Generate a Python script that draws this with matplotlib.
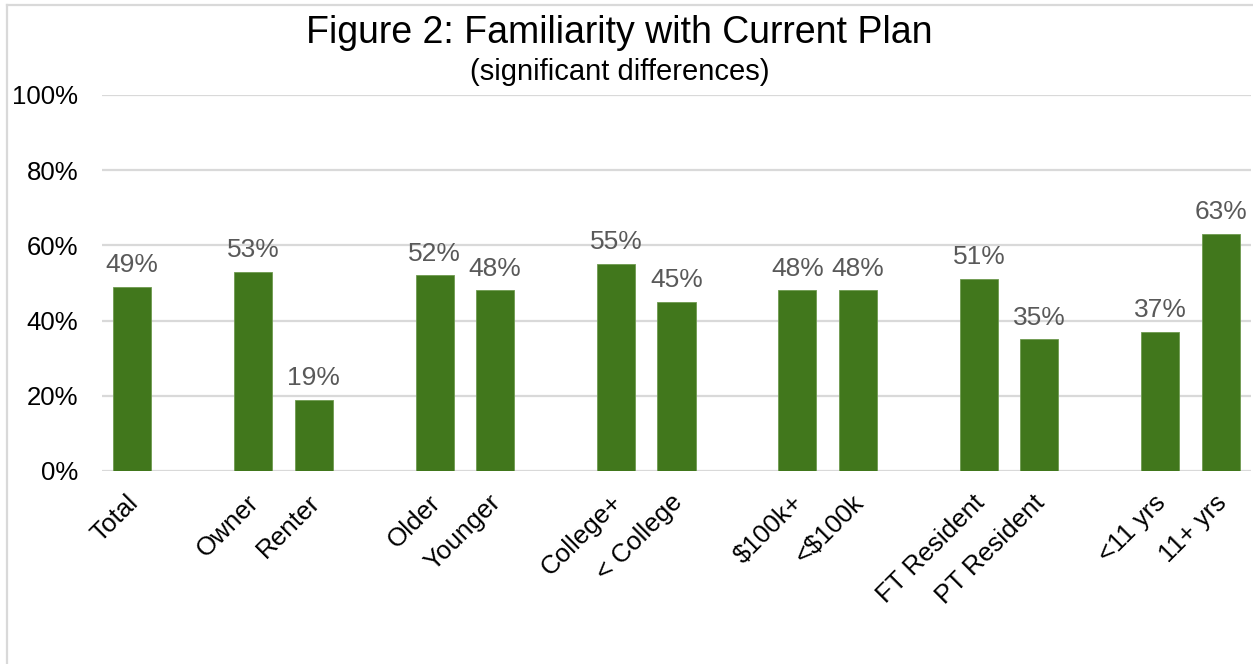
import numpy as np
import matplotlib.pyplot as plt
import matplotlib.transforms as mtransforms
from matplotlib.lines import Line2D

plt.rcParams['font.family'] = ['Liberation Sans', 'DejaVu Sans']

# survey groups, with None as a spacer between groups
labels = ['Total', None, 'Owner', 'Renter', None, 'Older', 'Younger', None,
          'College+', '< College', None, '$100k+', '<$100k', None,
          'FT Resident', 'PT Resident', None, '<11 yrs', '11+ yrs']
values = [49, None, 53, 19, None, 52, 48, None, 55, 45, None,
          48, 48, None, 51, 35, None, 37, 63]
yticks = [0, 20, 40, 60, 80, 100]

bar_color = '#41771C'
grid_color = '#D9D9D9'

fig = plt.figure(figsize=(12.53, 6.64), dpi=100)
ax = fig.add_axes([0.0814, 0.2907, 0.9170, 0.5663])

pos = [i for i, v in enumerate(values) if v is not None]
vals = [values[i] for i in pos]
names = [labels[i] for i in pos]

ax.bar(pos, vals, width=0.63, color=bar_color, edgecolor='#6E9A4F',
       linewidth=0.6, zorder=3)
for x, v in zip(pos, vals):
    ax.annotate(f'{v}%', (x, v), xytext=(0, 7), textcoords='offset points',
                ha='center', va='bottom', fontsize=19, color='#595959')

ax.set_xlim(-0.5, len(labels) - 0.5)
ax.set_ylim(0, 100)
ax.set_yticks(yticks)
ax.set_yticklabels([f'{t}%' for t in yticks], fontsize=18.5)
ax.tick_params(axis='y', length=0, pad=17)
ax.tick_params(axis='x', length=0, pad=6)
ax.grid(axis='y', color=grid_color, linewidth=1.6, zorder=0)
for s in ax.spines.values():
    s.set_visible(False)

ax.set_xticks(pos)
ax.set_xticklabels(names, rotation=45, ha='right', va='center',
                   rotation_mode='anchor', fontsize=18.7)
shift = mtransforms.ScaledTranslation(1.5 / 72, -14 / 72, fig.dpi_scale_trans)
for lbl in ax.get_xticklabels():
    lbl.set_transform(lbl.get_transform() + shift)

# chart frame
fig.add_artist(Line2D([7 / 1253, 7 / 1253], [0, 1 - 5 / 664],
                      transform=fig.transFigure, color=grid_color, lw=1.6))
fig.add_artist(Line2D([7 / 1253, 1], [1 - 5 / 664, 1 - 5 / 664],
                      transform=fig.transFigure, color=grid_color, lw=1.6))

fig.text(0.494, 1 - 33 / 664, 'Figure 2: Familiarity with Current Plan',
         ha='center', va='center', fontsize=27)
fig.text(0.495, 1 - 72 / 664, '(significant differences)',
         ha='center', va='center', fontsize=21)

fig.savefig('out.png', dpi=100)
